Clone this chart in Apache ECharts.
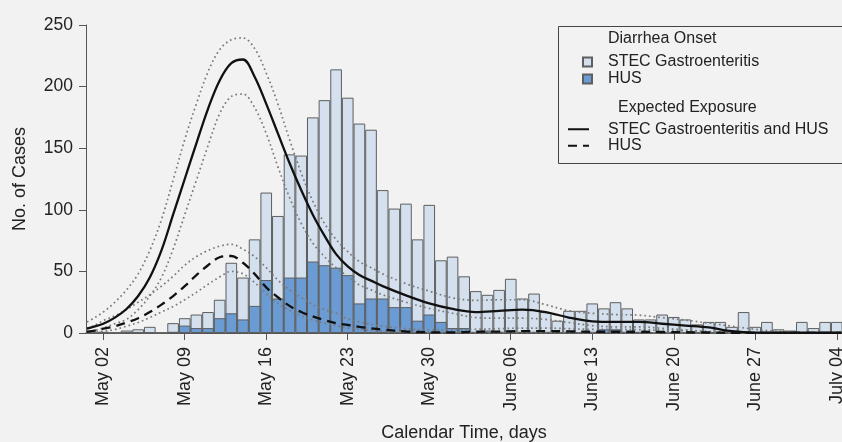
<!DOCTYPE html>
<html><head><meta charset="utf-8">
<script src="https://cdn.jsdelivr.net/npm/echarts@6/dist/echarts.min.js"></script>
<style>html,body{margin:0;padding:0;background:#f2f2f2}#c{width:842px;height:442px}</style>
</head><body><div id="c"></div>
<script>
// ---- data ----
// day index: 0 = May 02
const barFirstDay = -1;
const totalCases = [0,1,0,2,3,5,0,8,12,15,17,27,57,45,76,114,95,145,144,175,189,214,191,170,165,116,101,105,76,104,59,62,46,34,31,35,44,28,32,17,10,18,18,24,20,25,20,11,11,15,13,11,7,9,9,5,17,5,9,3,2,9,4,9,9];
const husCases   = [0,0,0,0,0,0,0,1,6,4,4,12,16,11,22,43,28,45,45,58,55,53,47,24,28,28,21,21,10,15,9,4,4,1,2,1,2,1,1,1,0,1,0,1,3,3,1,1,0,0,0,0,0,0,0,0,0,0,0,0,0,0,0,0,1];
const curveDays  = [-1.4,-1,0,1,2,3,4,5,6,7,8,9,10,11,12,13,14,15,16,17,18,19,20,21,22,23,24,26,28,30,32,34,36,38,40,42,44,46,48,50,52,54,56,58,60,62,63.4];
const expAll     = [3.5,4.5,7.5,12.5,19.5,30,45,67,96,125,154,182,205,219,222,208,186,162,138,116,96,79,64,54,47,42.5,38,30.5,24,19.5,17,18,19,17,12.5,9.5,9,9,7.5,6,4.5,1.5,0.3,0.2,0.2,0.2,0.2];
const expAllHi   = [9,11,17,25,35,48,67,92,124,157,186,212,230,238,239.5,231,211,186,157,130,107,89,76,66,58,53,48,40,34,28.5,26.5,27,27,23,18,16,15,14.5,12.5,10.5,8,5.5,3,1.2,0.4,0.2,0.2];
const expAllLo   = [0.5,1.3,4,7.5,11,19,30,45,68,96,124,152,178,192,194,183,162,135,110,89,73,62,53,46,39,35,31,25,20,16,12.5,12,12,11,8.5,6,5,5,3.8,2.5,1.2,0.5,0.1,0,0,0,0];
const expHus     = [1,1.5,3.5,5.5,8.5,12,17,23,30,38,47,55,61.5,62.5,57,48,37,29,22,17,13.5,10.5,8,6.5,5,3.8,2.8,1.2,0.6,0.5,1,1.2,1.5,1.5,1.3,1,1,1,0.8,0.6,0.4,0.2,0.1,0.1,0.1,0.1,0.1];
const expHusHi   = [4,5,10,14,19,25,31,38,46,55,62,67,70.5,72,68,62,53,43,35,29,23,19,16,11.5,9,7,5.5,3.5,2.5,2.5,3,3.5,4,4,3.5,3,3,2.8,2.2,1.6,1,0.5,0.2,0.2,0.2,0.2,0.2];
const expHusLo   = [0,0.3,1.5,2.8,5.5,8.5,12.5,17,21.5,27,33,39.5,45.5,50,48,41,32,24,18.5,14,10.5,8,6,4,3,2.2,1.5,0.8,0.3,0.2,0.2,0.2,0.2,0.2,0.2,0.2,0.2,0.2,0.2,0.2,0.2,0.2,0.2,0.2,0.2,0.2,0.2];
const tickDays   = [0,7,14,21,28,35,42,49,56,63];
const tickLabels = ['May 02','May 09','May 16','May 23','May 30','June 06','June 13','June 20','June 27','July 04'];
const yTicks     = [0,50,100,150,200,250];
const seriesNames = ['STEC Gastroenteritis','HUS','STEC Gastroenteritis and HUS','HUS exposure'];
const legendHeads = ['Diarrhea Onset','Expected Exposure'];

// ---- build ----
const xMin = -1.48, xMax = 63.45;
const gridLeft = 86, gridRight = 0;
const pxPerDay = (842 - gridLeft - gridRight) / (xMax - xMin);
const pairs = (xs, ys) => ys.map((v, i) => [xs[i], v]);
const barDays = totalCases.map((_, i) => barFirstDay + i);
const font = 'Liberation Sans, Arial, sans-serif';
const txt = '#222';

const dotted = (data) => ({
  type: 'line', data: pairs(curveDays, data), smooth: 0.35, symbol: 'none', silent: true, z: 4,
  lineStyle: { color: '#7a7a7a', width: 1.7, type: [1.7, 3] }
});

const chart = echarts.init(document.getElementById('c'), null, { renderer: 'canvas' });
chart.setOption({
  backgroundColor: '#f2f2f2',
  animation: false,
  textStyle: { fontFamily: font },
  grid: { left: gridLeft, right: gridRight, top: 25, bottom: 109, outerBoundsMode: 'none', containLabel: false },
  xAxis: {
    type: 'value', min: xMin, max: xMax,
    name: 'Calendar Time, days', nameLocation: 'middle', nameGap: 91,
    nameTextStyle: { fontSize: 18, color: txt, fontFamily: font },
    axisLine: { onZero: false, lineStyle: { color: '#555', width: 1 } },
    axisTick: { customValues: tickDays, length: 7, lineStyle: { color: '#555' } },
    axisLabel: { customValues: tickDays, rotate: 90, margin: 14, fontSize: 18, color: txt, fontFamily: font,
      formatter: v => tickLabels[tickDays.indexOf(Math.round(v))] || '' },
    splitLine: { show: false }
  },
  yAxis: {
    type: 'value', min: yTicks[0], max: yTicks[yTicks.length - 1], interval: 50,
    name: 'No. of Cases', nameLocation: 'middle', nameGap: 57, nameRotate: 90,
    nameTextStyle: { fontSize: 18, color: txt, fontFamily: font },
    axisLine: { show: true, onZero: false, lineStyle: { color: '#555', width: 1 } },
    axisTick: { show: true, length: 7, lineStyle: { color: '#555' } },
    axisLabel: { margin: 13, fontSize: 17.5, color: txt, fontFamily: font },
    splitLine: { show: false }
  },
  legend: [
    { data: [seriesNames[0], seriesNames[1]], orient: 'vertical', left: 577, top: 48.5,
      itemWidth: 9, itemHeight: 9, itemGap: 0, icon: 'rect', selectedMode: false,
      textStyle: { fontSize: 16, lineHeight: 17, color: txt, fontFamily: font, padding: [0, 0, 0, 11] } },
    { data: [seriesNames[2], seriesNames[3]], orient: 'vertical', left: 562, top: 116,
      itemWidth: 21, itemHeight: 9, itemGap: 0, selectedMode: false,
      itemStyle: { opacity: 0 },
      formatter: n => n === seriesNames[3] ? seriesNames[1] : n,
      textStyle: { fontSize: 16, lineHeight: 16.5, color: txt, fontFamily: font, padding: [0, 0, 0, 14] } }
  ],
  graphic: [
    { type: 'rect', left: 558, top: 26, z: 10, silent: true,
      shape: { width: 300, height: 137 }, style: { fill: 'rgba(0,0,0,0)', stroke: '#444', lineWidth: 1 } },
    { type: 'text', left: 608, top: 31, z: 10, style: { text: legendHeads[0], font: '16px ' + font, fill: txt } },
    { type: 'text', left: 618, top: 100, z: 10, style: { text: legendHeads[1], font: '16px ' + font, fill: txt } }
  ],
  series: [
    { name: seriesNames[0], type: 'bar', data: pairs(barDays, totalCases), barWidth: pxPerDay, barGap: '-100%', z: 2,
      itemStyle: { color: '#d4e0ee', borderColor: '#5e5e5e', borderWidth: 1 } },
    { name: seriesNames[1], type: 'bar', data: pairs(barDays, husCases), barWidth: pxPerDay, barGap: '-100%', z: 3,
      itemStyle: { color: '#6a9bd3', borderColor: '#5e5e5e', borderWidth: 1 } },
    dotted(expAllHi), dotted(expAllLo), dotted(expHusHi), dotted(expHusLo),
    { name: seriesNames[2], type: 'line', data: pairs(curveDays, expAll), smooth: 0.35, symbol: 'none', z: 5,
      itemStyle: { color: '#111' }, lineStyle: { color: '#111', width: 2.3 } },
    { name: seriesNames[3], type: 'line', data: pairs(curveDays, expHus), smooth: 0.35, symbol: 'none', z: 5,
      itemStyle: { color: '#111' }, lineStyle: { color: '#111', width: 2.3, type: [9, 6] } }
  ]
});
</script></body></html>
